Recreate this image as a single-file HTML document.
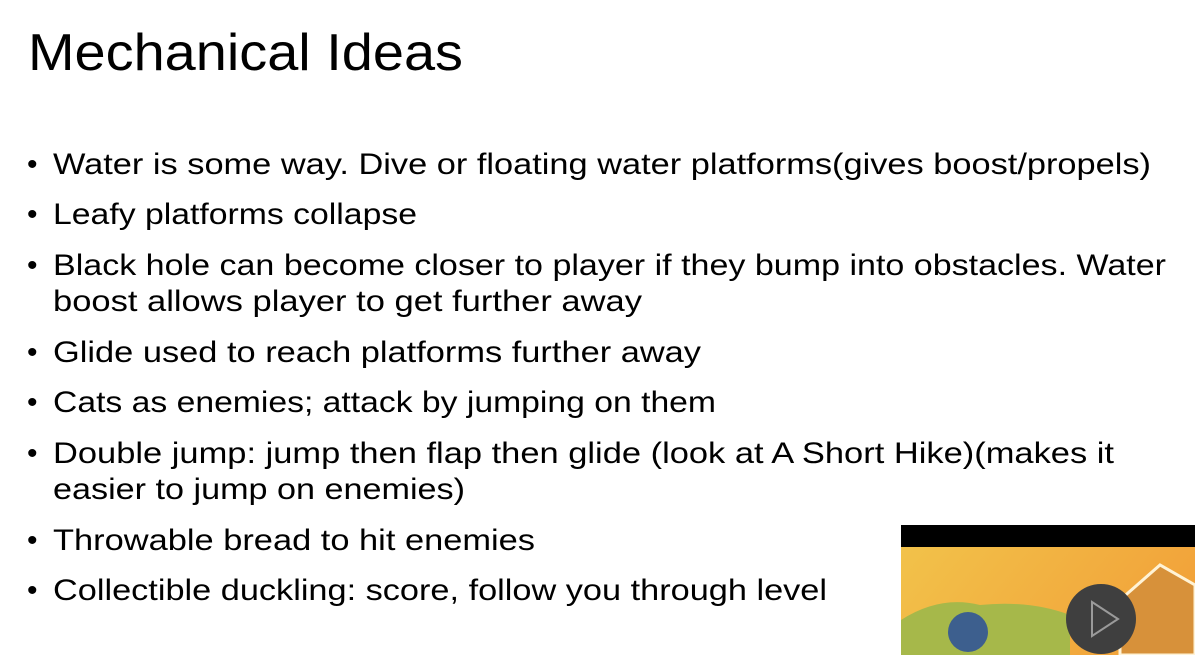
<!DOCTYPE html>
<html><head><style>
html,body{margin:0;padding:0;background:#fff;}
svg{display:block;}
text{font-family:"Liberation Sans",sans-serif;fill:#000;}
</style></head><body>
<svg width="1195" height="655" viewBox="0 0 1195 655">
<text x="28" y="70" font-size="52" textLength="435" lengthAdjust="spacingAndGlyphs" style="font-weight:300">Mechanical Ideas</text>
<g font-size="30">
<text x="27" y="174">•</text><text x="53" y="174" textLength="1098" lengthAdjust="spacingAndGlyphs">Water is some way. Dive or floating water platforms(gives boost/propels)</text>
<text x="27" y="224">•</text><text x="53" y="224" textLength="364" lengthAdjust="spacingAndGlyphs">Leafy platforms collapse</text>
<text x="27" y="275">•</text><text x="53" y="275" textLength="1113" lengthAdjust="spacingAndGlyphs">Black hole can become closer to player if they bump into obstacles. Water</text>
<text x="53" y="311" textLength="589" lengthAdjust="spacingAndGlyphs">boost allows player to get further away</text>
<text x="27" y="362">•</text><text x="53" y="362" textLength="648" lengthAdjust="spacingAndGlyphs">Glide used to reach platforms further away</text>
<text x="27" y="412">•</text><text x="53" y="412" textLength="663" lengthAdjust="spacingAndGlyphs">Cats as enemies; attack by jumping on them</text>
<text x="27" y="463">•</text><text x="53" y="463" textLength="1061" lengthAdjust="spacingAndGlyphs">Double jump: jump then flap then glide (look at A Short Hike)(makes it</text>
<text x="53" y="499" textLength="412" lengthAdjust="spacingAndGlyphs">easier to jump on enemies)</text>
<text x="27" y="550">•</text><text x="53" y="550" textLength="482" lengthAdjust="spacingAndGlyphs">Throwable bread to hit enemies</text>
<text x="27" y="600">•</text><text x="53" y="600" textLength="774" lengthAdjust="spacingAndGlyphs">Collectible duckling: score, follow you through level</text>
</g>
<defs>
<linearGradient id="g" x1="0" y1="0" x2="1" y2="0.3">
<stop offset="0" stop-color="#f2c24a"/><stop offset="1" stop-color="#f2a33a"/>
</linearGradient>
</defs>
<rect x="901" y="525" width="294" height="22" fill="#000"/>
<rect x="901" y="547" width="294" height="108" fill="url(#g)"/>
<path d="M901 620 Q940 595 980 605 Q1030 600 1070 615 L1070 655 L901 655Z" fill="#a6b84a"/>
<path d="M1120 600 L1160 565 L1195 585 L1195 655 L1120 655Z" fill="#d7913a" stroke="#fff3d6" stroke-width="3"/>
<ellipse cx="968" cy="632" rx="20" ry="20" fill="#3d5f8e"/>
<circle cx="1101" cy="619" r="35" fill="#3f3f3f"/>
<path d="M1092 602 L1118 619 L1092 636Z" fill="none" stroke="#9a9a9a" stroke-width="2"/>
</svg>
</body></html>
